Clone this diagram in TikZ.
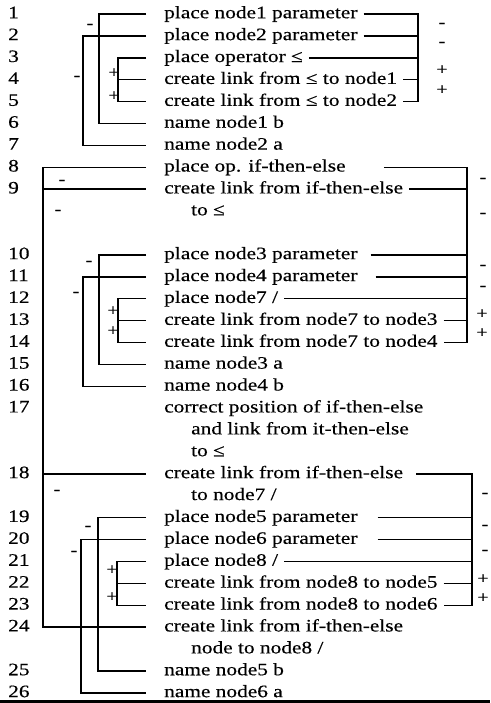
\documentclass[tikz,border=0pt]{standalone}
\usepackage{fontspec}
\setmainfont{Liberation Serif}[FakeStretch=1.22,FakeBold=0.4]
\tikzstyle{txt}=[anchor=west,inner sep=0pt,text height=12pt,text depth=3.5pt,font=\fontsize{17.5}{20}\selectfont]
\tikzstyle{num}=[txt]
\tikzstyle{sign}=[inner sep=0pt,font=\fontsize{16}{16}\selectfont]
\tikzstyle{lbar}=[line width=1.5pt,shorten <=18pt,shorten >=18pt]
\tikzstyle{ltie}=[line width=1.5pt,shorten >=18pt]
\tikzstyle{rbar}=[line width=1.5pt,shorten <=6pt,shorten >=6pt]
\tikzstyle{rtie}=[line width=1.5pt,shorten <=6pt]

\begin{document}
\begin{tikzpicture}[x=1pt,y=-1pt]
\useasboundingbox (0,0) rectangle (490,703);
% columns of the brackets
\coordinate (a1) at (99,0);
\coordinate (b1) at (83,0);
\coordinate (c1) at (118,0);
\coordinate (big) at (43,0);
\coordinate (a2) at (99,0);
\coordinate (b2) at (83,0);
\coordinate (c2) at (118,0);
\coordinate (a3) at (98,0);
\coordinate (b3) at (81,0);
\coordinate (c3) at (117,0);
\coordinate (k1) at (418,0);
\coordinate (k2) at (467,0);
\coordinate (k3) at (472,0);
% steps
\node[num] at (8, 14) (n1) {1};
\node[txt] at (164, 14) (r1) {place node1 parameter};
\node[num] at (8, 35.9) (n2) {2};
\node[txt] at (164, 35.9) (r2) {place node2 parameter};
\node[num] at (8, 57.8) (n3) {3};
\node[txt] at (164, 57.8) (r3) {place operator ≤};
\node[num] at (8, 79.7) (n4) {4};
\node[txt] at (164, 79.7) (r4) {create link from ≤ to node1};
\node[num] at (8, 101.6) (n5) {5};
\node[txt] at (164, 101.6) (r5) {create link from ≤ to node2};
\node[num] at (8, 123.5) (n6) {6};
\node[txt] at (164, 123.5) (r6) {name node1 b};
\node[num] at (8, 145.4) (n7) {7};
\node[txt] at (164, 145.4) (r7) {name node2 a};
\node[num] at (8, 167.3) (n8) {8};
\node[txt] at (164, 167.3) (r8) {place op. if-then-else};
\node[num] at (8, 189.2) (n9) {9};
\node[txt] at (164, 189.2) (r9) {create link from if-then-else};
\node[txt] at (191, 211.1) (r9b) {to ≤};
\node[num] at (8, 254.9) (n10) {10};
\node[txt] at (164, 254.9) (r10) {place node3 parameter};
\node[num] at (8, 276.8) (n11) {11};
\node[txt] at (164, 276.8) (r11) {place node4 parameter};
\node[num] at (8, 298.7) (n12) {12};
\node[txt] at (164, 298.7) (r12) {place node7 /};
\node[num] at (8, 320.6) (n13) {13};
\node[txt] at (164, 320.6) (r13) {create link from node7 to node3};
\node[num] at (8, 342.5) (n14) {14};
\node[txt] at (164, 342.5) (r14) {create link from node7 to node4};
\node[num] at (8, 364.4) (n15) {15};
\node[txt] at (164, 364.4) (r15) {name node3 a};
\node[num] at (8, 386.3) (n16) {16};
\node[txt] at (164, 386.3) (r16) {name node4 b};
\node[num] at (8, 408.2) (n17) {17};
\node[txt] at (164, 408.2) (r17) {correct position of if-then-else};
\node[txt] at (191, 430.1) (r17b) {and link from it-then-else};
\node[txt] at (191, 452) (r17c) {to ≤};
\node[num] at (8, 473.9) (n18) {18};
\node[txt] at (164, 473.9) (r18) {create link from if-then-else};
\node[txt] at (191, 495.8) (r18b) {to node7 /};
\node[num] at (8, 517.7) (n19) {19};
\node[txt] at (164, 517.7) (r19) {place node5 parameter};
\node[num] at (8, 539.6) (n20) {20};
\node[txt] at (164, 539.6) (r20) {place node6 parameter};
\node[num] at (8, 561.5) (n21) {21};
\node[txt] at (164, 561.5) (r21) {place node8 /};
\node[num] at (8, 583.4) (n22) {22};
\node[txt] at (164, 583.4) (r22) {create link from node8 to node5};
\node[num] at (8, 605.3) (n23) {23};
\node[txt] at (164, 605.3) (r23) {create link from node8 to node6};
\node[num] at (8, 627.2) (n24) {24};
\node[txt] at (164, 627.2) (r24) {create link from if-then-else};
\node[txt] at (191, 649.1) (r24b) {node to node8 /};
\node[num] at (8, 671) (n25) {25};
\node[txt] at (164, 671) (r25) {name node5 b};
\node[num] at (8, 692.9) (n26) {26};
\node[txt] at (164, 692.9) (r26) {name node6 a};
% left brackets
\draw[lbar] (r1.west) -| (a1 |- r6.west) -- (r6.west);
\draw[lbar] (r2.west) -| (b1 |- r7.west) -- (r7.west);
\draw[lbar] (r3.west) -| (c1 |- r5.west) -- (r5.west);
\draw[ltie] (c1 |- r4.west) -- (r4.west);
\draw[lbar] (r8.west) -| (big |- r24.west) -- (r24.west);
\draw[ltie] (big |- r9.west) -- (r9.west);
\draw[ltie] (big |- r18.west) -- (r18.west);
\draw[lbar] (r10.west) -| (a2 |- r15.west) -- (r15.west);
\draw[lbar] (r11.west) -| (b2 |- r16.west) -- (r16.west);
\draw[lbar] (r12.west) -| (c2 |- r14.west) -- (r14.west);
\draw[ltie] (c2 |- r13.west) -- (r13.west);
\draw[lbar] (r19.west) -| (a3 |- r25.west) -- (r25.west);
\draw[lbar] (r20.west) -| (b3 |- r26.west) -- (r26.west);
\draw[lbar] (r21.west) -| (c3 |- r23.west) -- (r23.west);
\draw[ltie] (c3 |- r22.west) -- (r22.west);
% right brackets
\draw[rbar] (r1.east) -| (k1 |- r5.east) -- (r5.east);
\draw[rtie] (r2.east) -- (k1 |- r2.east);
\draw[rtie] (r3.east) -- (k1 |- r3.east);
\draw[rtie] (r4.east) -- (k1 |- r4.east);
\draw[rbar, shorten <=38pt] (r8.east) -| (k2 |- r14.east) -- (r14.east);
\draw[rtie] (r9.east) -- (k2 |- r9.east);
\draw[rtie, shorten <=13pt] (r10.east) -- (k2 |- r10.east);
\draw[rtie, shorten <=18pt] (r11.east) -- (k2 |- r11.east);
\draw[rtie] (r12.east) -- (k2 |- r12.east);
\draw[rtie] (r13.east) -- (k2 |- r13.east);
\draw[rbar, shorten <=13pt] (r18.east) -| (k3 |- r23.east) -- (r23.east);
\draw[rtie, shorten <=20pt] (r19.east) -- (k3 |- r19.east);
\draw[rtie, shorten <=20pt] (r20.east) -- (k3 |- r20.east);
\draw[rtie] (r21.east) -- (k3 |- r21.east);
\draw[rtie] (r22.east) -- (k3 |- r22.east);
% signs
\node[sign] at (90, 26) (s1) {-};
\node[sign] at (77, 78) (s2) {-};
\node[sign] at (114, 73) (s3) {+};
\node[sign] at (114, 96) (s4) {+};
\node[sign] at (442, 25) (s5) {-};
\node[sign] at (442, 44) (s6) {-};
\node[sign] at (442, 70) (s7) {+};
\node[sign] at (442, 90) (s8) {+};
\node[sign] at (62, 182) (s9) {-};
\node[sign] at (58, 212) (s10) {-};
\node[sign] at (57, 492) (s11) {-};
\node[sign] at (89, 263) (s12) {-};
\node[sign] at (76, 294) (s13) {-};
\node[sign] at (113, 311) (s14) {+};
\node[sign] at (113, 331) (s15) {+};
\node[sign] at (483, 180) (s16) {-};
\node[sign] at (483, 215) (s17) {-};
\node[sign] at (483, 267) (s18) {-};
\node[sign] at (483, 288) (s19) {-};
\node[sign] at (482, 314) (s20) {+};
\node[sign] at (482, 333) (s21) {+};
\node[sign] at (88, 528) (s22) {-};
\node[sign] at (74, 553) (s23) {-};
\node[sign] at (112, 570) (s24) {+};
\node[sign] at (112, 597) (s25) {+};
\node[sign] at (485, 495) (s26) {-};
\node[sign] at (485, 527) (s27) {-};
\node[sign] at (485, 552) (s28) {-};
\node[sign] at (483, 579) (s29) {+};
\node[sign] at (483, 598) (s30) {+};
% bottom edge
\draw[line width=3pt] (0,701.5) -- (490,701.5);
\end{tikzpicture}
\end{document}
